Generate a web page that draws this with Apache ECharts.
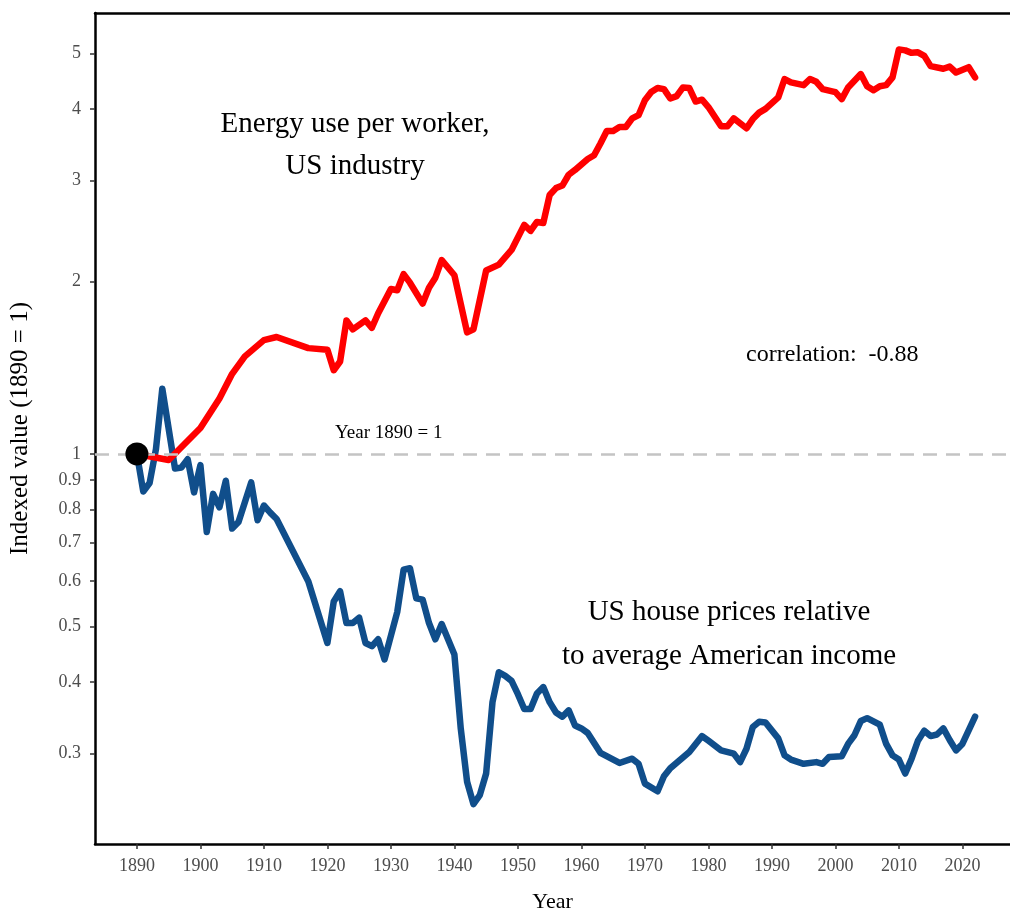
<!DOCTYPE html>
<html>
<head>
<meta charset="utf-8">
<script src="https://cdn.jsdelivr.net/npm/echarts@6/dist/echarts.min.js"></script>
<style>
  html, body { margin: 0; padding: 0; background: #fff; }
  #chart { width: 1010px; height: 918px; }
</style>
</head>
<body>
<div id="chart"></div>
<script>
// 能源使用 / 房价 指数（1890 = 1）

const energyYears = [1890, 1895, 1900, 1903, 1905, 1907, 1910, 1912, 1917, 1920, 1921, 1922, 1923, 1924, 1926, 1927, 1928,
    1930, 1931, 1932, 1933, 1935, 1936, 1937, 1938, 1940, 1942, 1943, 1945, 1947, 1949, 1951, 1952, 1953, 1954, 1955,
    1956, 1957, 1958, 1959, 1960, 1961, 1962, 1963, 1964, 1965, 1966, 1967, 1968, 1969, 1970, 1971, 1972, 1973, 1974,
    1975, 1976, 1977, 1978, 1979, 1980, 1982, 1983, 1984, 1986, 1987, 1988, 1989, 1991, 1992, 1993, 1995, 1996, 1997,
    1998, 2000, 2001, 2002, 2004, 2005, 2006, 2007, 2008, 2009, 2010, 2011, 2012, 2013, 2014, 2015, 2017, 2018, 2019,
    2021, 2022];
const energyValues = [1.0, 0.976, 1.11, 1.25, 1.38, 1.48, 1.58, 1.60, 1.53, 1.52, 1.40, 1.45, 1.71, 1.65, 1.71, 1.66, 1.76,
    1.94, 1.93, 2.06, 1.99, 1.83, 1.95, 2.03, 2.18, 2.05, 1.63, 1.65, 2.09, 2.14, 2.27, 2.51, 2.45, 2.54, 2.53, 2.83,
    2.91, 2.94, 3.07, 3.13, 3.20, 3.27, 3.32, 3.48, 3.66, 3.66, 3.72, 3.72, 3.85, 3.90, 4.14, 4.28, 4.35, 4.33, 4.17,
    4.21, 4.36, 4.35, 4.12, 4.15, 4.03, 3.73, 3.73, 3.85, 3.70, 3.84, 3.94, 4.00, 4.19, 4.51, 4.45, 4.40, 4.51, 4.46,
    4.33, 4.28, 4.16, 4.36, 4.60, 4.38, 4.31, 4.38, 4.40, 4.54, 5.08, 5.06, 5.01, 5.02, 4.95, 4.75, 4.70, 4.74, 4.63,
    4.73, 4.54];

const houseYears = [1890, 1891, 1892, 1893, 1894, 1896, 1897, 1898, 1899, 1900, 1901, 1902, 1903, 1904, 1905, 1906, 1908,
    1909, 1910, 1911, 1912, 1917, 1920, 1921, 1922, 1923, 1924, 1925, 1926, 1927, 1928, 1929, 1931, 1932, 1933, 1934,
    1935, 1936, 1937, 1938, 1939, 1940, 1941, 1942, 1943, 1944, 1945, 1946, 1947, 1948, 1949, 1950, 1951, 1952, 1953,
    1954, 1955, 1956, 1957, 1958, 1959, 1960, 1961, 1963, 1966, 1968, 1969, 1970, 1972, 1973, 1974, 1977, 1979, 1980,
    1982, 1984, 1985, 1986, 1987, 1988, 1989, 1991, 1992, 1993, 1995, 1997, 1998, 1999, 2001, 2002, 2003, 2004, 2005,
    2007, 2008, 2009, 2010, 2011, 2012, 2013, 2014, 2015, 2016, 2017, 2018, 2019, 2020, 2022];
const houseValues = [1.0, 0.86, 0.89, 1.02, 1.30, 0.943, 0.947, 0.979, 0.857, 0.956, 0.731, 0.852, 0.807, 0.898, 0.741,
    0.761, 0.892, 0.766, 0.813, 0.790, 0.770, 0.599, 0.468, 0.553, 0.576, 0.507, 0.507, 0.518, 0.468, 0.462, 0.475,
    0.438, 0.530, 0.628, 0.632, 0.560, 0.557, 0.507, 0.475, 0.505, 0.475, 0.447, 0.332, 0.268, 0.245, 0.254, 0.277,
    0.369, 0.416, 0.410, 0.402, 0.381, 0.359, 0.359, 0.382, 0.392, 0.369, 0.354, 0.348, 0.357, 0.336, 0.332, 0.326,
    0.301, 0.289, 0.294, 0.288, 0.266, 0.258, 0.274, 0.283, 0.302, 0.322, 0.316, 0.304, 0.300, 0.290, 0.306, 0.334,
    0.341, 0.340, 0.319, 0.298, 0.293, 0.288, 0.290, 0.288, 0.296, 0.297, 0.312, 0.323, 0.342, 0.346, 0.337, 0.312,
    0.298, 0.293, 0.277, 0.294, 0.316, 0.329, 0.322, 0.324, 0.332, 0.317, 0.304, 0.312, 0.348];

const baseYear = [1890];
const baseValue = [1];
const xTicks = [1890, 1900, 1910, 1920, 1930, 1940, 1950, 1960, 1970, 1980, 1990, 2000, 2010, 2020];
const yTicks = [0.3, 0.4, 0.5, 0.6, 0.7, 0.8, 0.9, 1, 2, 3, 4, 5];

const FONT = '"Liberation Serif", "Times New Roman", serif';

const chart = echarts.init(document.getElementById('chart'));

const option = {
    animation: false,
    textStyle: { fontFamily: FONT },
    grid: { left: 94, right: 0, top: 13, bottom: 68, containLabel: false },
    xAxis: [
        {
            type: 'value',
            min: 1883.4,
            max: 2027.5,
            name: 'Year',
            nameLocation: 'middle',
            nameGap: 47,
            nameTextStyle: { fontFamily: FONT, fontSize: 22, color: '#000' },
            axisLine: { show: true, lineStyle: { color: '#000', width: 2.5 } },
            axisTick: { show: true, inside: false, length: 5, customValues: xTicks, lineStyle: { color: '#333', width: 1.5 } },
            axisLabel: {
                customValues: xTicks,
                margin: 13,
                fontFamily: FONT,
                fontSize: 18,
                color: '#4d4d4d',
                formatter: v => String(Math.round(v))
            },
            splitLine: { show: false }
        },
        {
            type: 'value',
            position: 'top',
            min: 1883.4,
            max: 2027.5,
            axisLine: { show: true, lineStyle: { color: '#000', width: 2.5 } },
            axisTick: { show: false },
            axisLabel: { show: false },
            splitLine: { show: false }
        }
    ],
    yAxis: {
        type: 'log',
        logBase: 10,
        min: 0.2087,
        max: 5.88,
        name: 'Indexed value (1890 = 1)',
        nameLocation: 'middle',
        nameGap: 62,
        nameTextStyle: { fontFamily: FONT, fontSize: 25, color: '#000' },
        axisLine: { show: true, lineStyle: { color: '#000', width: 2.5 } },
        axisTick: { show: true, length: 5, customValues: yTicks, lineStyle: { color: '#333', width: 1.5 } },
        axisLabel: {
            customValues: yTicks,
            margin: 14,
            fontFamily: FONT,
            fontSize: 18,
            color: '#4d4d4d',
            formatter: v => String(+(+v).toPrecision(2))
        },
        splitLine: { show: false },
        minorTick: { show: false }
    },
    series: [
        {
            name: 'Energy use per worker',
            type: 'line',
            data: energyYears.map((y, i) => [y, energyValues[i]]),
            showSymbol: false,
            symbol: 'none',
            lineStyle: { color: '#ff0000', width: 6.5, join: 'round', cap: 'round' },
            z: 3,
            markLine: {
                silent: true,
                symbol: 'none',
                label: { show: false },
                lineStyle: { color: '#c4c4c4', type: [14, 9], width: 2.5 },
                data: [{ yAxis: 1 }]
            }
        },
        {
            name: 'US house prices',
            type: 'line',
            data: houseYears.map((y, i) => [y, houseValues[i]]),
            showSymbol: false,
            symbol: 'none',
            lineStyle: { color: '#104e8b', width: 6.5, join: 'round', cap: 'round' },
            z: 2
        },
        {
            name: 'base',
            type: 'scatter',
            data: baseYear.map((y, i) => [y, baseValue[i]]),
            symbolSize: 23,
            itemStyle: { color: '#000', opacity: 1 },
            z: 5
        }
    ],
    graphic: [
        {
            type: 'text', x: 355, y: 103, z: 10,
            style: { text: 'Energy use per worker,\nUS industry', fill: '#000', font: '29px ' + FONT, textAlign: 'center', textVerticalAlign: 'top', lineHeight: 42 }
        },
        {
            type: 'text', x: 746, y: 343, z: 10,
            style: { text: 'correlation:  -0.88', fill: '#000', font: '24px ' + FONT, textVerticalAlign: 'top' }
        },
        {
            type: 'text', x: 335, y: 424, z: 10,
            style: { text: 'Year 1890 = 1', fill: '#000', font: '19px ' + FONT, textVerticalAlign: 'top' }
        },
        {
            type: 'text', x: 729, y: 591, z: 10,
            style: { text: 'US house prices relative\nto average American income', fill: '#000', font: '29px ' + FONT, textAlign: 'center', textVerticalAlign: 'top', lineHeight: 43.5 }
        }
    ]
};

chart.setOption(option);
window.addEventListener('resize', () => chart.resize());
</script>
</body>
</html>
